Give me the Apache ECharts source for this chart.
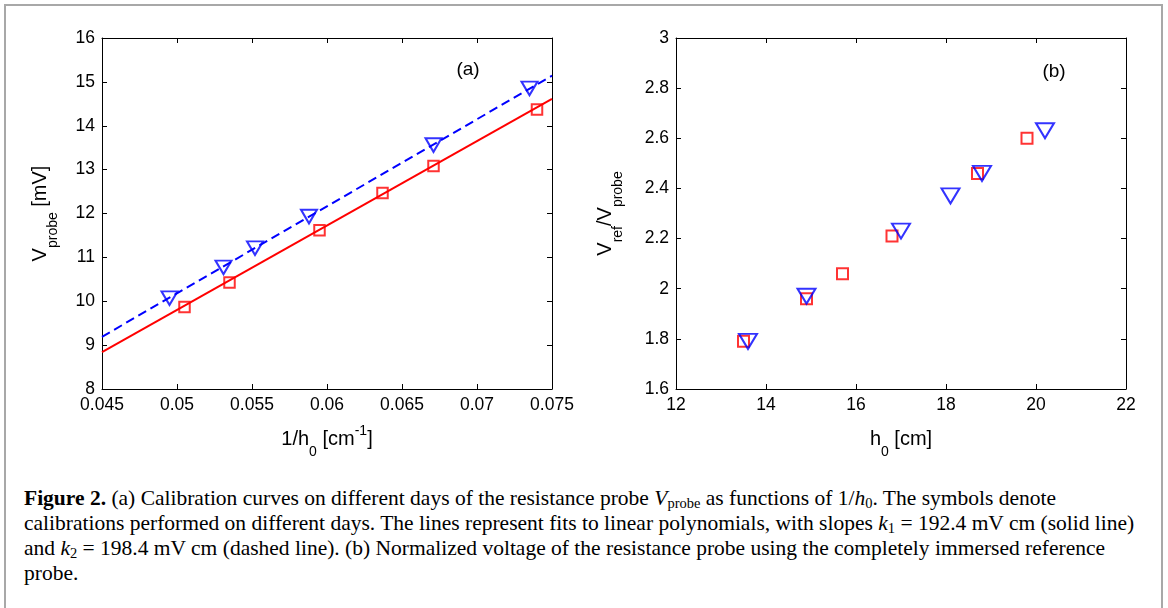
<!DOCTYPE html>
<html><head><meta charset="utf-8">
<script src="https://cdn.jsdelivr.net/npm/echarts@6/dist/echarts.min.js"></script>
<style>
html,body{margin:0;padding:0;background:#fff;width:1168px;height:608px;overflow:hidden;}
#frame{position:absolute;left:4px;top:4px;width:1159px;height:700px;border:2px solid #a8a8a8;box-sizing:border-box;}
#chart{position:absolute;left:0;top:0;width:1168px;height:470px;}
#cap{position:absolute;left:24px;top:486px;font-family:'Liberation Serif';font-size:21.5px;line-height:25px;color:#000;white-space:nowrap;}
#cap sub{font-size:14.5px;vertical-align:-3px;line-height:0;}
</style></head>
<body>
<div id="frame"></div>
<div id="chart"></div>
<div id="cap">
<div><b>Figure 2.</b> (a) Calibration curves on different days of the resistance probe <i>V</i><sub>probe</sub> as functions of 1/<i>h</i><sub>0</sub>. The symbols denote</div>
<div>calibrations performed on different days. The lines represent fits to linear polynomials, with slopes <i>k</i><sub>1</sub> = 192.4 mV cm (solid line)</div>
<div>and <i>k</i><sub>2</sub> = 198.4 mV cm (dashed line). (b) Normalized voltage of the resistance probe using the completely immersed reference</div>
<div>probe.</div>
</div>
<script>
// ---- Panel (a) data ----
const aXTicks = [0.045, 0.05, 0.055, 0.06, 0.065, 0.07, 0.075];
const aYTicks = [8, 9, 10, 11, 12, 13, 14, 15, 16];
const aTriX = [0.0495, 0.0531, 0.0552, 0.0588, 0.0671, 0.0735];
const aTriY = [10.07, 10.77, 11.21, 11.93, 13.56, 14.85];
const aSqX = [0.0505, 0.0535, 0.0595, 0.0637, 0.0671, 0.0740];
const aSqY = [9.87, 10.43, 11.62, 12.47, 13.08, 14.37];
const aFitX = [0.045, 0.075];
const aFitSolidY = [8.84, 14.61];
const aFitDashY = [9.19, 15.14];
// ---- Panel (b) data ----
const bXTicks = [12, 14, 16, 18, 20, 22];
const bYTicks = [1.6, 1.8, 2.0, 2.2, 2.4, 2.6, 2.8, 3.0];
const bSqX = [13.5, 14.9, 15.7, 16.8, 18.7, 19.8];
const bSqY = [1.79, 1.96, 2.06, 2.21, 2.46, 2.60];
const bTriX = [13.6, 14.9, 17.0, 18.1, 18.8, 20.2];
const bTriY = [1.79, 1.97, 2.23, 2.37, 2.46, 2.63];

const FONT = 'Liberation Sans';
const zip = (xs, ys) => xs.map((x, i) => [x, ys[i]]);
const fmt = v => String(+(+v).toFixed(4));
const TRI = 'path://M0,0L20,0L10,17Z';

function axis(kind, grid, ticks, pos, showLabel, name, gap) {
  const o = {
    type: 'value', gridIndex: grid, position: pos,
    min: ticks[0], max: ticks[ticks.length - 1],
    interval: +(ticks[1] - ticks[0]).toFixed(6),
    axisLine: {show: true, onZero: false, lineStyle: {color: '#000', width: 1}},
    axisTick: {show: true, inside: true, length: 5, lineStyle: {color: '#000', width: 1}, customValues: ticks},
    splitLine: {show: false},
    axisLabel: {show: showLabel, customValues: ticks, color: '#000', fontSize: 17.5, fontFamily: FONT, margin: 7, formatter: fmt},
  };
  if (name) {
    o.name = name; o.nameLocation = 'middle'; o.nameGap = gap;
    if (kind === 'y') o.nameRotate = 90;
    o.nameTextStyle = {
      color: '#000', fontSize: 20, fontFamily: FONT,
      rich: {
        sub: {fontSize: 14, fontFamily: FONT, color: '#000', padding: [26, 0, 0, 0]},
        sup: {fontSize: 14, fontFamily: FONT, color: '#000', padding: [0, 0, 16, 0]}
      }
    };
  }
  return o;
}

const hollow = c => ({color: 'rgba(0,0,0,0)', borderColor: c, borderWidth: 2});

const option = {
  animation: false,
  grid: [
    {left: 102, top: 38, width: 450, height: 351},
    {left: 676, top: 38, width: 450, height: 351}
  ],
  xAxis: [
    axis('x', 0, aXTicks, 'bottom', true, '1/h{sub|0} [cm{sup|-1}]', 30),
    axis('x', 0, aXTicks, 'top', false),
    axis('x', 1, bXTicks, 'bottom', true, 'h{sub|0} [cm]', 30),
    axis('x', 1, bXTicks, 'top', false)
  ],
  yAxis: [
    axis('y', 0, aYTicks, 'left', true, 'V{sub|probe} [mV]', 42),
    axis('y', 0, aYTicks, 'right', false),
    axis('y', 1, bYTicks, 'left', true, 'V{sub|ref}/V{sub|probe}', 51),
    axis('y', 1, bYTicks, 'right', false)
  ],
  series: [
    {type: 'line', xAxisIndex: 0, yAxisIndex: 0, data: zip(aFitX, aFitSolidY), symbol: 'none',
     lineStyle: {color: '#ff0000', width: 2}},
    {type: 'line', xAxisIndex: 0, yAxisIndex: 0, data: zip(aFitX, aFitDashY), symbol: 'none',
     lineStyle: {color: '#0000ff', width: 2, type: [9, 5]}},
    {type: 'scatter', xAxisIndex: 0, yAxisIndex: 0, data: zip(aSqX, aSqY), symbol: 'rect', symbolSize: 10.5,
     itemStyle: hollow('#ff0000')},
    {type: 'scatter', xAxisIndex: 0, yAxisIndex: 0, data: zip(aTriX, aTriY), symbol: TRI, symbolSize: [16, 13.6],
     symbolKeepAspect: false, itemStyle: hollow('#0000ff')},
    {type: 'scatter', xAxisIndex: 2, yAxisIndex: 2, data: zip(bSqX, bSqY), symbol: 'rect', symbolSize: 11,
     itemStyle: hollow('#ff0000')},
    {type: 'scatter', xAxisIndex: 2, yAxisIndex: 2, data: zip(bTriX, bTriY), symbol: TRI, symbolSize: [18, 15],
     symbolKeepAspect: false, itemStyle: hollow('#0000ff')}
  ],
  graphic: [
    {type: 'text', x: 468, y: 69.5, style: {text: '(a)', font: '19px "Liberation Sans"', fill: '#000', align: 'center', verticalAlign: 'middle'}},
    {type: 'text', x: 1054, y: 71.5, style: {text: '(b)', font: '19px "Liberation Sans"', fill: '#000', align: 'center', verticalAlign: 'middle'}}
  ]
};
const chart = echarts.init(document.getElementById('chart'), null, {renderer: 'canvas'});
chart.setOption(option);
</script>
</body></html>
